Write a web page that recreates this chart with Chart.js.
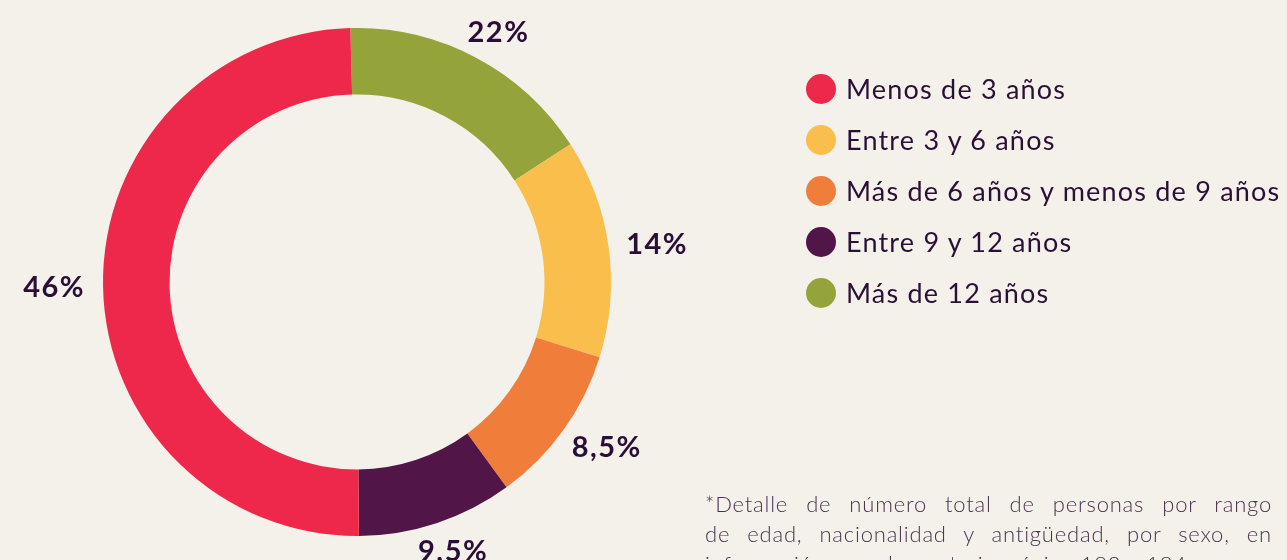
<!DOCTYPE html>
<html lang="es">
<head>
<meta charset="utf-8">
<script src="https://cdn.jsdelivr.net/npm/chart.js@4"></script>
<style>
  html, body { margin: 0; padding: 0; background: #f4f1eb; width: 1287px; height: 560px; overflow: hidden; }
  #wrap { position: relative; width: 1287px; height: 560px; }
  #c { position: absolute; left: 0; top: 0; }
  #legend { position: absolute; left: 806px; top: 63px; font-family: Lato, sans-serif; color: #2b1035; font-size: 27px; letter-spacing: 1.2px; }
  .row { display: flex; align-items: center; height: 51px; white-space: nowrap; }
  .dot { width: 30px; height: 30px; border-radius: 50%; margin-right: 10px; flex: none; }
  #note { position: absolute; left: 705px; top: 489px; width: 567px; font-family: Lato, sans-serif; font-weight: 300; font-size: 22px; letter-spacing: 0.8px; line-height: 30px; color: #4a3350; }
  #note .j { white-space: nowrap; text-align: justify; text-align-last: justify; }
  #note .l { white-space: nowrap; text-align: left; }
</style>
</head>
<body>
<div id="wrap">
  <canvas id="c" width="1287" height="560"></canvas>
  <div id="legend"></div>
  <div id="note"></div>
</div>
<script>
// Categories in legend order
const categories = ['Menos de 3 años', 'Entre 3 y 6 años', 'Más de 6 años y menos de 9 años', 'Entre 9 y 12 años', 'Más de 12 años'];
// Printed percentage labels
const percentLabels = ['46%', '14%', '8,5%', '9,5%', '22%'];
// Slice sizes as drawn in the picture (share of the ring, %)
const sliceShares = [49.7, 13.9, 10.2, 9.9, 16.3];
const colors = ['#ee284a', '#f9be4c', '#f07e3a', '#521547', '#95a33b'];
// Clockwise drawing order from the top of the ring
const drawOrder = [4, 1, 2, 3, 0];
// Footnote lines
const noteLines = [
  '*Detalle de número total de personas por rango',
  'de edad, nacionalidad y antigüedad, por sexo, en',
  'información complementaria, página 182 a 184.'
];

// HTML legend
const legend = document.getElementById('legend');
categories.forEach((name, i) => {
  const row = document.createElement('div');
  row.className = 'row';
  const dot = document.createElement('span');
  dot.className = 'dot';
  dot.style.background = colors[i];
  const txt = document.createElement('span');
  txt.textContent = name;
  row.appendChild(dot); row.appendChild(txt);
  legend.appendChild(row);
});

const note = document.getElementById('note');
noteLines.forEach((line, i) => {
  const d = document.createElement('div');
  d.className = i < noteLines.length - 1 ? 'j' : 'l';
  d.textContent = line;
  note.appendChild(d);
});

const outsideLabels = {
  id: 'outsideLabels',
  afterDatasetsDraw(chart) {
    const ctx = chart.ctx;
    const meta = chart.getDatasetMeta(0);
    ctx.save();
    ctx.font = 'bold 29px Lato, sans-serif';
    if ('letterSpacing' in ctx) ctx.letterSpacing = '1.5px';
    ctx.fillStyle = '#2a0e36';
    ctx.textAlign = 'center';
    ctx.textBaseline = 'middle';
    meta.data.forEach((arc, k) => {
      const idx = drawOrder[k];
      const p = arc.getProps(['x', 'y', 'startAngle', 'endAngle', 'outerRadius'], true);
      const mid = (p.startAngle + p.endAngle) / 2;
      const label = percentLabels[idx];
      const w = ctx.measureText(label).width;
      const h = 22;
      const r = p.outerRadius + 18;
      const tx = p.x + Math.cos(mid) * r + Math.cos(mid) * w / 2;
      const ty = p.y + Math.sin(mid) * r + Math.sin(mid) * h / 2;
      ctx.fillText(label, tx, ty + 1);
    });
    ctx.restore();
  }
};

new Chart(document.getElementById('c'), {
  type: 'doughnut',
  data: {
    labels: drawOrder.map(i => categories[i]),
    datasets: [{
      data: drawOrder.map(i => sliceShares[i]),
      backgroundColor: drawOrder.map(i => colors[i]),
      borderWidth: 0
    }]
  },
  options: {
    responsive: false,
    animation: false,
    devicePixelRatio: 1,
    rotation: -1.5,
    cutout: '73.8%',
    layout: { padding: { left: 103, right: 676, top: 28, bottom: 24 } },
    plugins: { legend: { display: false }, tooltip: { enabled: false } }
  },
  plugins: [outsideLabels]
});
</script>
</body>
</html>
